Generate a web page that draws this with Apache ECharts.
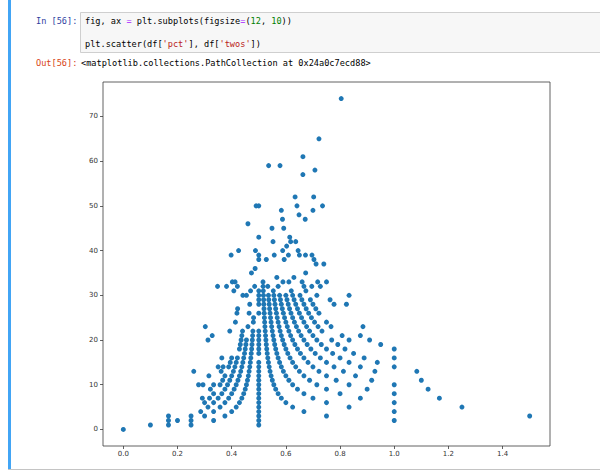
<!DOCTYPE html>
<html><head><meta charset="utf-8">
<script src="https://cdn.jsdelivr.net/npm/echarts@6/dist/echarts.min.js"></script>
<style>html,body{margin:0;padding:0;background:#fff}#c{width:600px;height:472px}</style>
</head><body><div id="c"></div>
<script>
// twos values (y) and the pct values (x) observed at each twos level
const twosLevels = [0,1,2,3,4,5,6,7,8,9,10,11,12,13,14,15,16,17,18,19,20,21,22,23,24,25,26,27,28,29,30,31,32,33,34,35,36,37,38,39,40,41,42,43,45,46,47,48,49,50,52,57,58,59,61,65,74];
const pctAtLevel = [
  [0],
  [0.1,0.1667,0.25,0.5],
  [0.1667,0.2,0.25,0.3333,0.5,1.0],
  [0.1667,0.25,0.3,0.375,0.5,0.75,1.5],
  [0.2857,0.3333,0.4,0.5,0.6667,1.0],
  [0.3125,0.3571,0.4167,0.5,0.625,0.8333,1.25],
  [0.3,0.3333,0.375,0.4286,0.5,0.6,0.75,1.0],
  [0.2917,0.3182,0.35,0.3889,0.4375,0.5,0.5833,0.7,0.875,1.1667],
  [0.3333,0.3636,0.4,0.4444,0.5,0.5714,0.6667,0.8,1.0],
  [0.3214,0.375,0.4091,0.45,0.5,0.5625,0.6429,0.75,0.9,1.125],
  [0.2778,0.2941,0.3333,0.3571,0.3846,0.4167,0.4545,0.5,0.5556,0.625,0.7143,0.8333,1.0],
  [0.3667,0.3929,0.4231,0.4583,0.5,0.55,0.6111,0.6875,0.7857,0.9167,1.1],
  [0.3158,0.375,0.4,0.4286,0.4615,0.5,0.5455,0.6,0.6667,0.75,0.8571],
  [0.26,0.3611,0.4063,0.4333,0.4643,0.5,0.5417,0.5909,0.65,0.7222,0.8125,0.9286,1.0833],
  [0.35,0.3684,0.3889,0.4118,0.4375,0.4667,0.5,0.5385,0.5833,0.6364,0.7,0.7778,0.875,1.0],
  [0.3947,0.4167,0.4412,0.4688,0.5,0.5357,0.5769,0.625,0.6818,0.75,0.8333,0.9375],
  [0.3636,0.4,0.4211,0.4444,0.4706,0.5333,0.5714,0.6154,0.6667,0.7273,0.8,0.8889,1.0],
  [0.4474,0.4722,0.5,0.5312,0.5667,0.6071,0.6538,0.7083,0.7727,0.85],
  [0.4286,0.45,0.4737,0.5,0.5294,0.5625,0.6,0.6429,0.6923,0.75,0.8182,1.0],
  [0.4318,0.4524,0.475,0.5,0.5278,0.5588,0.5938,0.6333,0.6786,0.7308,0.7917,0.95],
  [0.3125,0.4348,0.4545,0.4762,0.5,0.5263,0.5556,0.5882,0.625,0.6667,0.7143,0.7692,0.8333,0.9091],
  [0.3281,0.4375,0.4773,0.5,0.525,0.5526,0.5833,0.6176,0.6563,0.7,0.8077,0.875],
  [0.3929,0.44,0.4783,0.5,0.5238,0.55,0.5789,0.6111,0.6471,0.6875,0.7333],
  [0.3026,0.46,0.5227,0.5476,0.575,0.6053,0.6389,0.6765,0.7188,0.7667,0.8846],
  [0.4138,0.48,0.5217,0.5455,0.5714,0.6,0.6316,0.6667,0.7059,0.75],
  [0.4808,0.5208,0.5435,0.5682,0.5952,0.625,0.6579,0.6944],
  [0.4194,0.4643,0.5,0.52,0.5417,0.5652,0.5909,0.619,0.65,0.6842,0.7222],
  [0.4219,0.5192,0.54,0.5625,0.587,0.6136,0.6429,0.675,0.7105],
  [0.4667,0.5,0.5185,0.5385,0.56,0.5833,0.6087,0.6364,0.6667,0.7,0.7778,0.8235],
  [0.5,0.5179,0.537,0.5577,0.58,0.6042,0.6304,0.6591,0.6905,0.7632],
  [0.4412,0.4545,0.5,0.5172,0.5357,0.5556,0.5769,0.6,0.625,0.6522,0.7143,0.8333],
  [0.4079,0.4697,0.5,0.5167,0.5536,0.62,0.6739],
  [0.3478,0.381,0.4211,0.4848,0.5161,0.5333,0.5714,0.6667,0.6957,0.7273],
  [0.4024,0.4125,0.5156,0.5893,0.6111,0.66,0.7174,0.75],
  [0.5667,0.6296],
  [0.473,0.6731],
  [0.4865],
  [0.7115,0.74],
  [0.5,0.5278,0.5938,0.7037],
  [0.398,0.5,0.5571,0.6094,0.65,0.6724,0.6964],
  [0.4255,0.4878,0.5882,0.6452],
  [0.6029],
  [0.5526,0.6176,0.6364],
  [0.5,0.6143],
  [0.5488,0.5921],
  [0.46],
  [0.5875,0.6714],
  [0.6486],
  [0.5833,0.7],
  [0.4902,0.5,0.641,0.7353],
  [0.6341,0.7027],
  [0.6628],
  [0.7073],
  [0.5364,0.5784],
  [0.663],
  [0.7222],
  [0.8043]
];
const xTicks = [0, 0.2, 0.4, 0.6, 0.8, 1.0, 1.2, 1.4];
const yTicks = [0, 10, 20, 30, 40, 50, 60, 70];
const inPrompt = 'In [56]:';
const outPrompt = 'Out[56]:';
const outText = '<matplotlib.collections.PathCollection at 0x24a0c7ecd88>';

const points = [];
twosLevels.forEach((t, i) => pctAtLevel[i].forEach(p => points.push([p, t])));

const mono = '"DejaVu Sans Mono", "Liberation Mono", monospace';
const fs = 8.6;
function rs(color) { return { fill: color, fontFamily: mono, fontSize: fs }; }

const chart = echarts.init(document.getElementById('c'), null, { renderer: 'svg' });
chart.setOption({
  animation: false,
  backgroundColor: '#fff',
  grid: { left: 103, top: 82, width: 447, height: 364, show: true, borderColor: '#3a3a3a', borderWidth: 0.8, backgroundColor: '#fff' },
  xAxis: {
    type: 'value', min: -0.075, max: 1.575,
    splitLine: { show: false },
    axisLine: { show: false, onZero: false },
    axisTick: { show: true, inside: false, length: 3, customValues: xTicks, lineStyle: { color: '#3a3a3a', width: 0.8 } },
    axisLabel: { customValues: xTicks, formatter: v => v.toFixed(1), fontFamily: 'DejaVu Sans', fontSize: 7, color: '#333', margin: 4 }
  },
  yAxis: {
    type: 'value', min: -3.7, max: 77.7,
    splitLine: { show: false },
    axisLine: { show: false, onZero: false },
    axisTick: { show: true, inside: false, length: 3, customValues: yTicks, lineStyle: { color: '#3a3a3a', width: 0.8 } },
    axisLabel: { customValues: yTicks, formatter: v => String(v), fontFamily: 'DejaVu Sans', fontSize: 7, color: '#333', margin: 5 }
  },
  series: [{
    type: 'scatter', data: points, symbol: 'circle', symbolSize: 5,
    itemStyle: { color: '#1f77b4', opacity: 1 },
    emphasis: { disabled: true }
  }],
  graphic: [
    { type: 'rect', shape: { x: 8, y: 0, width: 3, height: 469 }, style: { fill: '#42A5F5' } },
    { type: 'line', shape: { x1: 8, y1: 469.5, x2: 600, y2: 469.5 }, style: { stroke: '#c4c4c4', lineWidth: 1 } },
    { type: 'rect', shape: { x: 80.5, y: 12.5, width: 540, height: 40 }, style: { fill: '#f7f7f7', stroke: '#cfcfcf', lineWidth: 1 } },
    { type: 'text', x: 36, y: 21, style: { text: inPrompt, fill: '#303F9F', fontFamily: mono, fontSize: fs, verticalAlign: 'middle' } },
    { type: 'text', x: 85, y: 21, style: {
        text: '{n|fig, ax }{o|=}{n| plt.subplots(figsize}{o|=}{n|(}{g|12}{n|, }{g|10}{n|))}',
        verticalAlign: 'middle', fontFamily: mono, fontSize: fs,
        rich: { n: rs('#000'), o: rs('#AA22FF'), g: rs('#008000') } } },
    { type: 'text', x: 85, y: 43.5, style: {
        text: "{n|plt.scatter(df[}{s|'pct'}{n|], df[}{s|'twos'}{n|])}",
        verticalAlign: 'middle', fontFamily: mono, fontSize: fs,
        rich: { n: rs('#000'), s: rs('#BA2121') } } },
    { type: 'text', x: 36, y: 62.5, style: { text: outPrompt, fill: '#D84315', fontFamily: mono, fontSize: fs, verticalAlign: 'middle' } },
    { type: 'text', x: 81, y: 62.5, style: { text: outText, fill: '#000', fontFamily: mono, fontSize: fs, verticalAlign: 'middle' } }
  ]
});
</script>
</body></html>
